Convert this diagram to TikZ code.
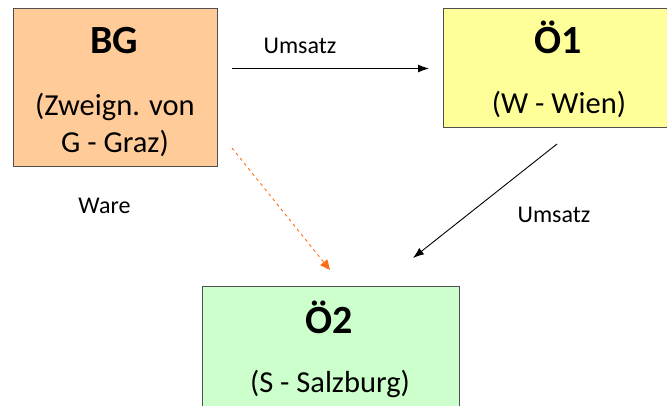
\documentclass[tikz,border=0pt]{standalone}
\usepackage{fontspec}
\setmainfont{Carlito}
\usetikzlibrary{arrows.meta}
\definecolor{bgfill}{RGB}{255,204,153}
\definecolor{oefill}{RGB}{255,255,153}
\definecolor{ozfill}{RGB}{204,255,204}
\definecolor{boxline}{RGB}{80,80,80}
\definecolor{warecol}{RGB}{255,110,20}
\tikzset{
  boxshape/.style={draw=boxline, line width=0.9pt, rectangle, inner sep=0pt},
  titletext/.style={font=\fontsize{40}{44}\selectfont\bfseries, anchor=base, inner sep=0pt},
  subtext/.style={font=\fontsize{30.5}{34}\selectfont, anchor=base, inner sep=0pt},
  labeltext/.style={font=\fontsize{24}{28}\selectfont, anchor=base, inner sep=0pt},
  flowarrow/.style={line width=0.9pt, -{Latex[length=11pt,width=8pt]}},
  warearrow/.style={warecol, line width=0.9pt, dash pattern=on 3pt off 3.5pt, -{Triangle[length=10pt,width=9pt]}},
}
\begin{document}
\begin{tikzpicture}[x=1pt,y=-1pt]
\useasboundingbox (0,0) rectangle (667,405);
\clip (0,0) rectangle (667,405);
% boxes
\node[boxshape, fill=bgfill, minimum width=204pt, minimum height=158pt] (bg) at (115,87) {};
\node[boxshape, fill=oefill, minimum width=224pt, minimum height=119pt] (oe1) at (555,67.5) {};
\node[boxshape, fill=ozfill, minimum width=257pt, minimum height=150pt] (oe2) at (330.5,361) {};
% box texts
\node[titletext] (bgt) at (114,53) {BG};
\node[subtext] (bgs1) at (115,115) {(Zweign. von};
\node[subtext] (bgs2) at (115,152) {G - Graz)};
\node[titletext] (oe1t) at (558,53) {Ö1};
\node[subtext] (oe1s) at (559,113) {(W - Wien)};
\node[titletext] (oe2t) at (329,333) {Ö2};
\node[subtext] (oe2s) at (330,392) {(S - Salzburg)};
% connector end points
\coordinate (a1s) at (232,68.5);
\coordinate (a1e) at (429,68.5);
\coordinate (a2s) at (557,144);
\coordinate (a2e) at (413,258);
\coordinate (a3s) at (232,148);
\coordinate (a3e) at (330,270);
\draw[flowarrow] (a1s) -- (a1e);
\draw[flowarrow] (a2s) -- (a2e);
\draw[warearrow] (a3s) -- (a3e);
% labels
\node[labeltext] (l1) at (300,53) {Umsatz};
\node[labeltext] (l2) at (554,222) {Umsatz};
\node[labeltext] (l3) at (104.5,213) {Ware};
\end{tikzpicture}
\end{document}
